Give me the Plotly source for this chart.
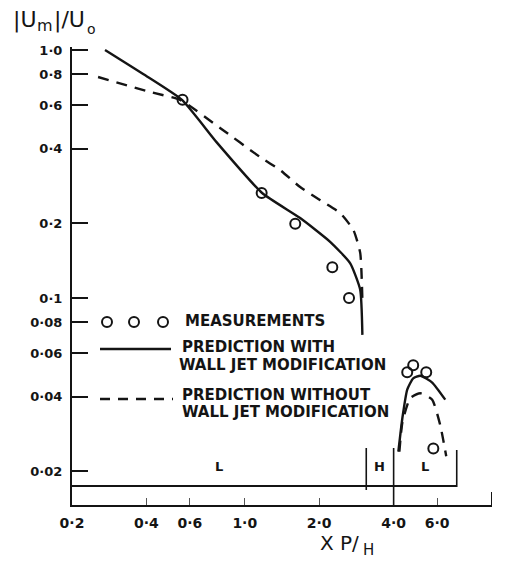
import numpy as np
import plotly.graph_objects as go

# ---- data -------------------------------------------------------------
# measured peak velocity ratio |Um|/Uo against Xp/H
meas_x = [0.56, 1.17, 1.60, 2.26, 2.64, 4.54, 4.80, 5.42, 5.79]
meas_y = [0.63, 0.265, 0.199, 0.133, 0.100, 0.0502, 0.0536, 0.0502, 0.0247]

# prediction with wall jet modification (upstream branch, downstream branch)
with_x1 = [0.272, 0.388, 0.557, 0.773, 1.175, 1.675, 2.22, 2.67, 2.93, 2.99]
with_y1 = [1.0, 0.80, 0.629, 0.422, 0.265, 0.210, 0.168, 0.138, 0.108, 0.071]
with_x2 = [4.18, 4.34, 4.54, 4.80, 5.13, 5.73, 6.47]
with_y2 = [0.0240, 0.0328, 0.0427, 0.0474, 0.0486, 0.0456, 0.0389]

# prediction without wall jet modification
without_x1 = [0.255, 0.414, 0.547, 0.794, 1.153, 1.39, 1.675, 2.02, 2.43, 2.75, 2.93, 2.99]
without_y1 = [0.778, 0.677, 0.629, 0.485, 0.370, 0.328, 0.280, 0.248, 0.220, 0.188, 0.152, 0.098]
without_x2 = [4.22, 4.34, 4.67, 5.13, 5.73, 6.18, 6.53]
without_y2 = [0.0240, 0.0315, 0.0395, 0.0413, 0.0389, 0.0306, 0.0230]

# flow regions along the floor
region_edges = [0.2, 3.1, 4.0, 7.2]
region_labels = ["L", "H", "L"]

# axis ticks
x_ticks = [0.2, 0.4, 0.6, 1.0, 2.0, 4.0, 6.0, 10.0]
x_tick_text = ["0·2", "0·4", "0·6", "1·0", "2·0", "4·0", "6·0", "10·0"]
y_ticks = [1.0, 0.8, 0.6, 0.4, 0.2, 0.1, 0.08, 0.06, 0.04, 0.02]
y_tick_text = ["1·0", "0·8", "0·6", "0·4", "0·2", "0·1", "0·08", "0·06", "0·04", "0·02"]

# ---- layout helpers ---------------------------------------------------
W, H = 509, 564
ML, MR, MT, MB = 72, 17, 47, 59
PW, PH = W - ML - MR, H - MT - MB


def fx(p):
    return (p - ML) / PW


def fy(p):
    return (H - MB - p) / PH


INK = "#141414"
FONT = "DejaVu Sans"
BOLD = dict(family=FONT, size=15, color=INK, weight="bold")

fig = go.Figure()

line_kw = dict(mode="lines", line_shape="spline", showlegend=False, hoverinfo="skip")
for xs, ys in [(with_x1, with_y1), (with_x2, with_y2)]:
    fig.add_trace(go.Scatter(x=xs, y=ys, line=dict(color=INK, width=2.4, smoothing=0.5), **line_kw))
for xs, ys in [(without_x1, without_y1), (without_x2, without_y2)]:
    fig.add_trace(go.Scatter(x=xs, y=ys, line=dict(color=INK, width=2.4, dash="11px,8px", smoothing=0.5), **line_kw))

fig.add_trace(go.Scatter(
    x=meas_x, y=meas_y, mode="markers", showlegend=False,
    marker=dict(symbol="circle-open", size=10, color=INK, line=dict(width=2, color=INK)),
))

shapes = []
# L / H / L band along the floor
shapes.append(dict(type="line", xref="x", yref="paper", x0=region_edges[0], x1=region_edges[-1],
                   y0=fy(486), y1=fy(486), line=dict(color=INK, width=2)))
sep_spans = [(fy(490), fy(448)), (0, fy(448)), (fy(487), fy(450))]
for xe, (y0, y1) in zip(region_edges[1:], sep_spans):
    shapes.append(dict(type="line", xref="x", yref="paper", x0=xe, x1=xe, y0=y0, y1=y1,
                       line=dict(color=INK, width=1.6)))
# end mark of the abscissa
shapes.append(dict(type="line", xref="x", yref="paper", x0=x_ticks[-1], x1=x_ticks[-1],
                   y0=0, y1=fy(492), line=dict(color=INK, width=2)))

annotations = []
for (a, b), lab in zip(zip(region_edges[:-1], region_edges[1:]), region_labels):
    annotations.append(dict(x=np.log10(np.sqrt(a * b)), xref="x", y=fy(476), yref="paper",
                            text=lab, showarrow=False, font=dict(BOLD, size=13)))

# key
for cx in [107, 134, 163]:
    shapes.append(dict(type="circle", xref="paper", yref="paper",
                       x0=fx(cx - 5), x1=fx(cx + 5), y0=fy(327), y1=fy(317),
                       line=dict(color=INK, width=2)))
shapes.append(dict(type="line", xref="paper", yref="paper", x0=fx(100), x1=fx(171),
                   y0=fy(349), y1=fy(349), line=dict(color=INK, width=2.4)))
shapes.append(dict(type="line", xref="paper", yref="paper", x0=fx(100), x1=fx(173),
                   y0=fy(399), y1=fy(399), line=dict(color=INK, width=2.4, dash="10px,8px")))

key_text = [
    (183, 321, "MEASUREMENTS"),
    (180, 347, "PREDICTION WITH"),
    (177, 365, "WALL JET MODIFICATION"),
    (180, 395, "PREDICTION WITHOUT"),
    (180, 412, "WALL JET MODIFICATION"),
]
for x0, yc, t in key_text:
    annotations.append(dict(x=fx(x0), y=fy(yc), xref="paper", yref="paper", text=t,
                            xanchor="left", yanchor="middle", showarrow=False, font=BOLD))

# axis titles, set piece by piece so the small letters sit low
title_parts = [
    (11, 20, "|U", 22),
    (35, 25, "m", 16),
    (52, 20, "|/U", 22),
    (85, 29, "o", 14),
    (318, 543, "X P/", 20),
    (361, 550, "H", 15),
]
for x0, yc, t, sz in title_parts:
    annotations.append(dict(x=fx(x0), y=fy(yc), xref="paper", yref="paper", text=t,
                            xanchor="left", yanchor="middle", showarrow=False,
                            font=dict(family=FONT, size=sz, color=INK)))

fig.update_layout(
    width=W, height=H,
    margin=dict(l=ML, r=MR, t=MT, b=MB),
    paper_bgcolor="white", plot_bgcolor="white",
    shapes=shapes, annotations=annotations,
    xaxis=dict(type="log", range=[np.log10(0.2), 1.0], showgrid=False, zeroline=False,
               showline=True, linecolor=INK, linewidth=2,
               tickvals=x_ticks, ticktext=x_tick_text, ticks="inside", ticklen=7,
               tickwidth=1, tickcolor="#555", ticklabelstandoff=4,
               tickfont=dict(BOLD, size=14)),
    yaxis=dict(type="log", range=[np.log10(0.01463), np.log10(1.028)], showgrid=False,
               zeroline=False, showline=True, linecolor=INK, linewidth=2,
               tickvals=y_ticks, ticktext=y_tick_text, ticks="inside", ticklen=16,
               tickwidth=2, tickcolor=INK, ticklabelstandoff=5,
               tickfont=dict(BOLD, size=13)),
)

fig.write_html("out.html")
